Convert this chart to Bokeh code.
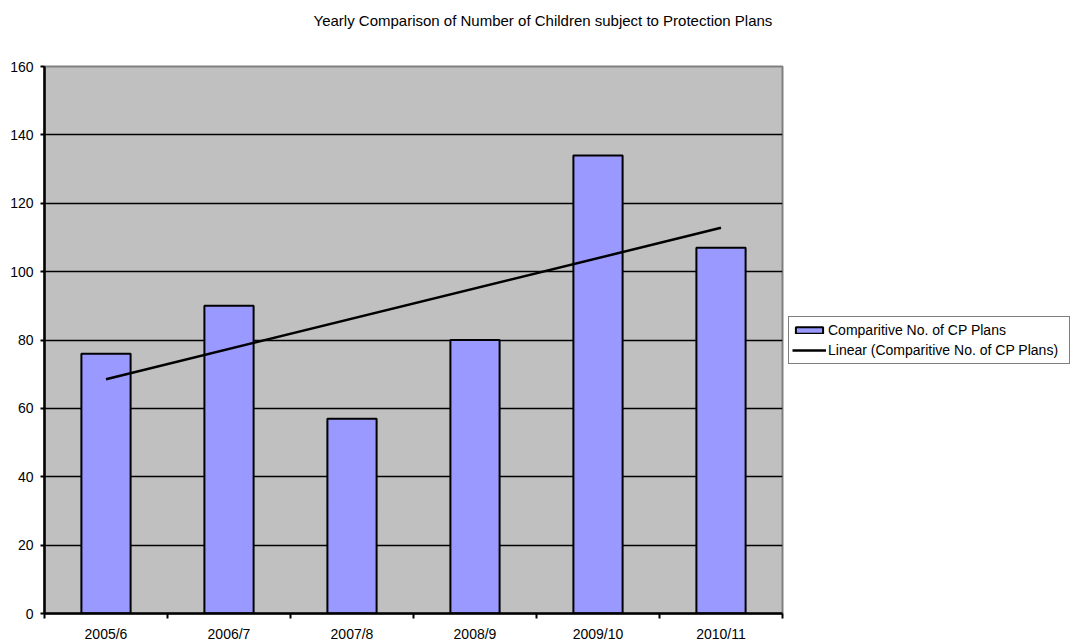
import numpy as np
from bokeh.plotting import figure
from bokeh.models import FixedTicker, Range1d, Legend, LegendItem, ColumnDataSource, Title
from bokeh.embed import file_html
from bokeh.resources import INLINE

# Number of children on Child Protection plans per year
years = ["2005/6", "2006/7", "2007/8", "2008/9", "2009/10", "2010/11"]
cp_plans = [76, 90, 57, 80, 134, 107]
y_ticks = [0, 20, 40, 60, 80, 100, 120, 140, 160]

FONT = "Liberation Sans"

n = len(years)
centers = [i + 0.5 for i in range(n)]
source = ColumnDataSource(data=dict(x=centers, plans=cp_plans, year=years))

# Least-squares linear trend over the yearly values
slope, intercept = np.polyfit(np.arange(1, n + 1), cp_plans, 1)
trend_x = [centers[0], centers[-1]]
trend_y = [slope * 1 + intercept, slope * n + intercept]

p = figure(
    frame_width=738, frame_height=547,
    min_border_left=44, min_border_right=292,
    min_border_top=66, min_border_bottom=29,
    x_range=Range1d(0, n), y_range=Range1d(0, y_ticks[-1]),
    output_backend="svg", toolbar_location=None,
    background_fill_color="#C0C0C0", border_fill_color="white",
)

# Blank band between the frame and the heading, then the heading itself
p.add_layout(Title(text=" ", text_font=FONT, text_font_size="15px", standoff=19), "above")
p.add_layout(Title(
    text="Yearly Comparison of Number of Children subject to Protection Plans",
    align="left", offset=269, standoff=0,
    text_font=FONT, text_font_size="15px", text_font_style="normal",
    text_color="black",
), "above")

p.outline_line_color = "#808080"
p.outline_line_width = 2

bars = p.vbar(x="x", top="plans", width=0.4, source=source,
              fill_color="#9999FF", line_color="black", line_width=2)
trend = p.line(trend_x, trend_y, line_color="black", line_width=2.5)

# Y axis
p.yaxis.ticker = FixedTicker(ticks=y_ticks, minor_ticks=[])
p.ygrid.ticker = FixedTicker(ticks=y_ticks, minor_ticks=[])
p.ygrid.grid_line_color = "black"
p.ygrid.grid_line_width = 1.5
p.xgrid.visible = False
p.yaxis.axis_line_color = "black"
p.yaxis.axis_line_width = 2.5
p.yaxis.major_tick_in = 0
p.yaxis.major_tick_out = 4
p.yaxis.major_tick_line_width = 2
p.yaxis.major_tick_line_color = "black"
p.yaxis.major_label_standoff = 7
p.yaxis.major_label_text_font = FONT
p.yaxis.major_label_text_font_size = "14px"
p.yaxis.major_label_text_color = "black"

# X axis: year labels at bar centres, tick marks on category boundaries
p.xaxis.ticker = FixedTicker(ticks=centers, minor_ticks=list(range(n + 1)))
p.xaxis.major_label_overrides = {c: y for c, y in zip(centers, years)}
p.xaxis.axis_line_color = "black"
p.xaxis.axis_line_width = 2.5
p.xaxis.major_tick_in = 0
p.xaxis.major_tick_out = 0
p.xaxis.minor_tick_in = 0
p.xaxis.minor_tick_out = 5
p.xaxis.minor_tick_line_color = "black"
p.xaxis.minor_tick_line_width = 2
p.xaxis.major_label_standoff = 7
p.xaxis.major_label_text_font = FONT
p.xaxis.major_label_text_font_size = "14px"
p.xaxis.major_label_text_color = "black"

legend = Legend(
    items=[
        LegendItem(label="Comparitive No. of CP Plans", renderers=[bars]),
        LegendItem(label="Linear (Comparitive No. of CP Plans)", renderers=[trend]),
    ],
    location="center_left",
    border_line_color="black", border_line_width=1.5,
    background_fill_color="white", background_fill_alpha=1,
    padding=3, spacing=0, margin=6,
    glyph_width=34, glyph_height=8, label_height=20, label_width=238,
    label_standoff=2,
    label_text_font=FONT, label_text_font_size="14px", label_text_color="black",
)
p.add_layout(legend, "right")

open("out.html", "w").write(file_html(p, INLINE))
